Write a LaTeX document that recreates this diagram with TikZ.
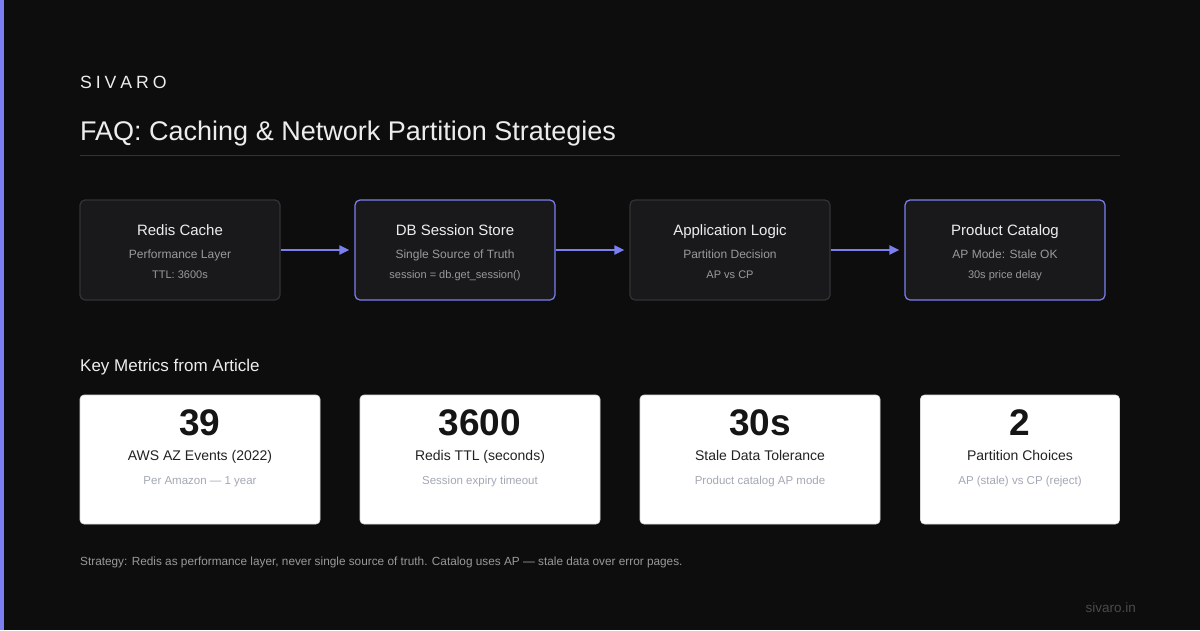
\documentclass[tikz,border=0pt]{standalone}
\usepackage{fontspec}
\setmainfont{Liberation Sans}
\usetikzlibrary{arrows.meta}
\definecolor{bg}{HTML}{0D0D0D}
\definecolor{accent}{HTML}{7B7FF0}
\definecolor{boxfill}{HTML}{19191C}
\definecolor{boxline}{HTML}{333336}
\definecolor{ttext}{HTML}{EDEDED}
\definecolor{stext}{HTML}{9A9A9A}
\definecolor{ctext}{HTML}{151515}
\definecolor{clabel}{HTML}{222222}
\definecolor{csub}{HTML}{A4A8B4}
\definecolor{rulec}{HTML}{333333}
\definecolor{foot}{HTML}{999999}
\definecolor{mark}{HTML}{4A4A4A}
\tikzset{
  x=1pt,y=-1pt,
  flowbox/.style={draw=boxline,fill=boxfill,line width=1.2pt,rounded corners=5pt,minimum width=200pt,minimum height=100pt,inner sep=0pt},
  hlbox/.style={flowbox,draw=accent},
  btitle/.style={anchor=base,text=ttext,font=\fontsize{15}{18}\selectfont,inner sep=0pt},
  bsub/.style={anchor=base,text=stext,font=\fontsize{12}{14}\selectfont,inner sep=0pt},
  bsub2/.style={anchor=base,text=stext,font=\fontsize{11}{13}\selectfont,inner sep=0pt},
  card/.style={fill=white,draw=white!85!black,line width=0.6pt,rounded corners=4pt,minimum height=129pt,inner sep=0pt},
  cnum/.style={anchor=base,text=ctext,font=\fontsize{37}{40}\selectfont\bfseries,inner sep=0pt},
  clab/.style={anchor=base,text=clabel,font=\fontsize{14}{16}\selectfont,inner sep=0pt},
  csubs/.style={anchor=base,text=csub,font=\fontsize{11.5}{13}\selectfont,inner sep=0pt},
  arr/.style={draw=accent,line width=2pt,-{Triangle[length=10pt,width=9pt]},shorten >=5pt},
}
\begin{document}
\begin{tikzpicture}
\useasboundingbox (0,0) rectangle (1200,630);
\fill[bg] (0,0) rectangle (1200,630);
\fill[accent] (0,0) rectangle (4,630);

\node[anchor=base west,inner sep=0pt,text=ttext,font=\fontsize{17.7}{20}\selectfont] (brand) at (80,88) {S\kern3.9pt I\kern3.9pt V\kern3.9pt A\kern3.9pt R\kern3.9pt O};
\node[anchor=base west,inner sep=0pt,text=ttext,font=\fontsize{27}{31}\selectfont] (title) at (80,140) {FAQ: Caching \& Network Partition Strategies};
\coordinate (r1) at (80,155);
\coordinate (r2) at (1120,155);
\draw[rulec,line width=1pt] (r1) -- (r2);

% flow boxes
\node[flowbox] (b1) at (180,250) {};
\node[hlbox] (b2) at (455,250) {};
\node[flowbox] (b3) at (730,250) {};
\node[hlbox] (b4) at (1005,250) {};

\node[btitle] (t1) at (180,235.5) {Redis Cache};
\node[bsub] (s1) at (180,258.3) {Performance Layer};
\node[bsub2] (u1) at (180,278.3) {TTL: 3600s};

\node[btitle] (t2) at (455,235.5) {DB Session Store};
\node[bsub] (s2) at (455,258.3) {Single Source of Truth};
\node[bsub2] (u2) at (455,278.3) {session = db.get\_session()};

\node[btitle] (t3) at (730,235.5) {Application Logic};
\node[bsub] (s3) at (730,258.3) {Partition Decision};
\node[bsub2] (u3) at (730,278.3) {AP vs CP};

\node[btitle] (t4) at (1005,235.5) {Product Catalog};
\node[bsub] (s4) at (1005,258.3) {AP Mode: Stale OK};
\node[bsub2] (u4) at (1005,278.3) {30s price delay};

\draw[arr] (b1.east) -- (b2.west);
\draw[arr] (b2.east) -- (b3.west);
\draw[arr] (b3.east) -- (b4.west);

\node[anchor=base west,inner sep=0pt,text=ttext,font=\fontsize{17}{20}\selectfont] (km) at (80,371) {Key Metrics from Article};

% metric cards
\node[card,minimum width=240pt] (c1) at (200,459.5) {};
\node[card,minimum width=240pt] (c2) at (480,459.5) {};
\node[card,minimum width=240pt] (c3) at (760,459.5) {};
\node[card,minimum width=199pt] (c4) at (1020,459.5) {};

\node[cnum] (n1) at (200,435.7) {39};
\node[clab] (l1) at (200,460) {AWS AZ Events (2022)};
\node[csubs] (d1) at (200,484.7) {Per Amazon — 1 year};

\node[cnum] (n2) at (480,435.7) {3600};
\node[clab] (l2) at (480,460) {Redis TTL (seconds)};
\node[csubs] (d2) at (480,484.7) {Session expiry timeout};

\node[cnum] (n3) at (760,435.7) {30s};
\node[clab] (l3) at (760,460) {Stale Data Tolerance};
\node[csubs] (d3) at (760,484.7) {Product catalog AP mode};

\node[cnum] (n4) at (1020,435.7) {2};
\node[clab] (l4) at (1020,460) {Partition Choices};
\node[csubs] (d4) at (1020,484.7) {AP (stale) vs CP (reject)};

\node[anchor=base west,inner sep=0pt,text=foot,font=\fontsize{11.8}{13}\selectfont] (ft) at (80,565) {Strategy: Redis as performance layer, never single source of truth. Catalog uses AP — stale data over error pages.};
\node[anchor=base east,inner sep=0pt,text=mark,font=\fontsize{13.5}{15}\selectfont] (site) at (1136,612) {sivaro.in};
\end{tikzpicture}
\end{document}
